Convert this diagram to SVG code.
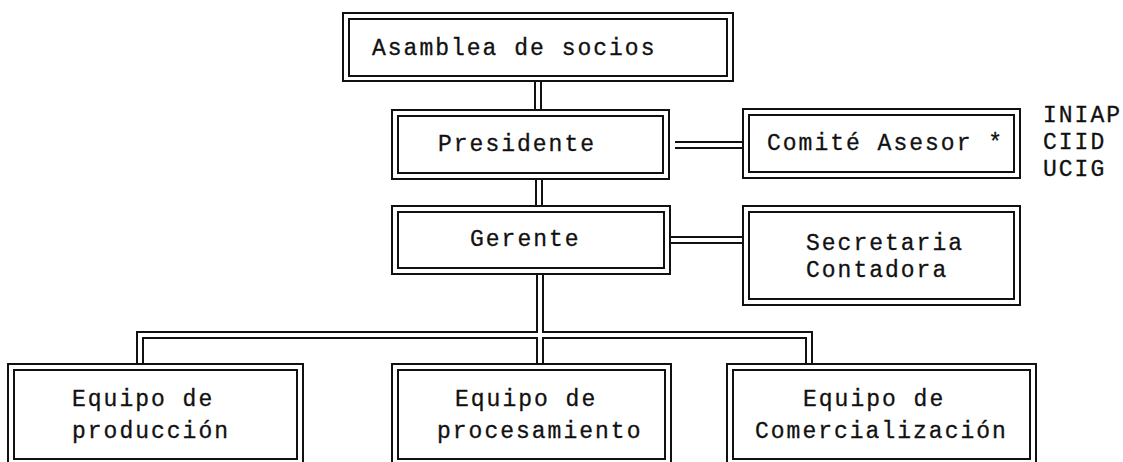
<svg xmlns="http://www.w3.org/2000/svg" width="1123" height="462" viewBox="0 0 1123 462">
<style>
.b{fill:none;stroke:#111;stroke-width:2}
.c{fill:none;stroke:#111;stroke-width:2}
text{font-family:"Liberation Mono","Courier New",monospace;font-size:23px;letter-spacing:2px;fill:#111;stroke:#111;stroke-width:0.3}
</style>
<rect width="1123" height="462" fill="#fff"/>
<g id="connectors">
<path class="c" d="M535,81V110M541,81V110"/>
<path class="c" d="M536,179V206M542,179V206"/>
<path class="c" d="M675,142H743M675,148H743"/>
<path class="c" d="M670,237H743M670,243H743"/>
<path class="c" d="M137,365V332H537V274M543,274V332H812V365"/>
<path class="c" d="M143,365V338H537V364M543,364V338H806V365"/>
</g>
<g id="asamblea">
<rect class="b" x="343" y="13" width="390" height="68"/>
<rect class="b" x="349" y="19" width="378" height="57"/>
<text x="372" y="55">Asamblea de socios</text>
</g>
<g id="presidente">
<rect class="b" x="392" y="110" width="277" height="69"/>
<rect class="b" x="398" y="116" width="265" height="57"/>
<text x="438" y="151">Presidente</text>
</g>
<g id="comite">
<rect class="b" x="743" y="109" width="277" height="69"/>
<rect class="b" x="749" y="115" width="265" height="57"/>
<text x="767" y="150">Comité Asesor *</text>
</g>
<g id="instituciones">
<text x="1043" y="122">INIAP</text>
<text x="1043" y="149">CIID</text>
<text x="1043" y="176">UCIG</text>
</g>
<g id="gerente">
<rect class="b" x="392" y="206" width="278" height="68"/>
<rect class="b" x="398" y="212" width="266" height="56"/>
<text x="470" y="246">Gerente</text>
</g>
<g id="secretaria">
<rect class="b" x="743" y="206" width="277" height="99"/>
<rect class="b" x="749" y="212" width="265" height="87"/>
<text x="806" y="250">Secretaria</text>
<text x="806" y="277">Contadora</text>
</g>
<g id="produccion">
<rect class="b" x="8" y="364" width="295" height="110"/>
<rect class="b" x="14" y="370" width="283" height="89"/>
<text x="72" y="406">Equipo de</text>
<text x="72" y="438">producción</text>
</g>
<g id="procesamiento">
<rect class="b" x="392" y="364" width="279" height="110"/>
<rect class="b" x="398" y="370" width="267" height="89"/>
<text x="455" y="406">Equipo de</text>
<text x="437" y="438">procesamiento</text>
</g>
<g id="comercializacion">
<rect class="b" x="727" y="364" width="309" height="110"/>
<rect class="b" x="733" y="370" width="297" height="89"/>
<text x="803" y="406">Equipo de</text>
<text x="755" y="438">Comercialización</text>
</g>
</svg>
